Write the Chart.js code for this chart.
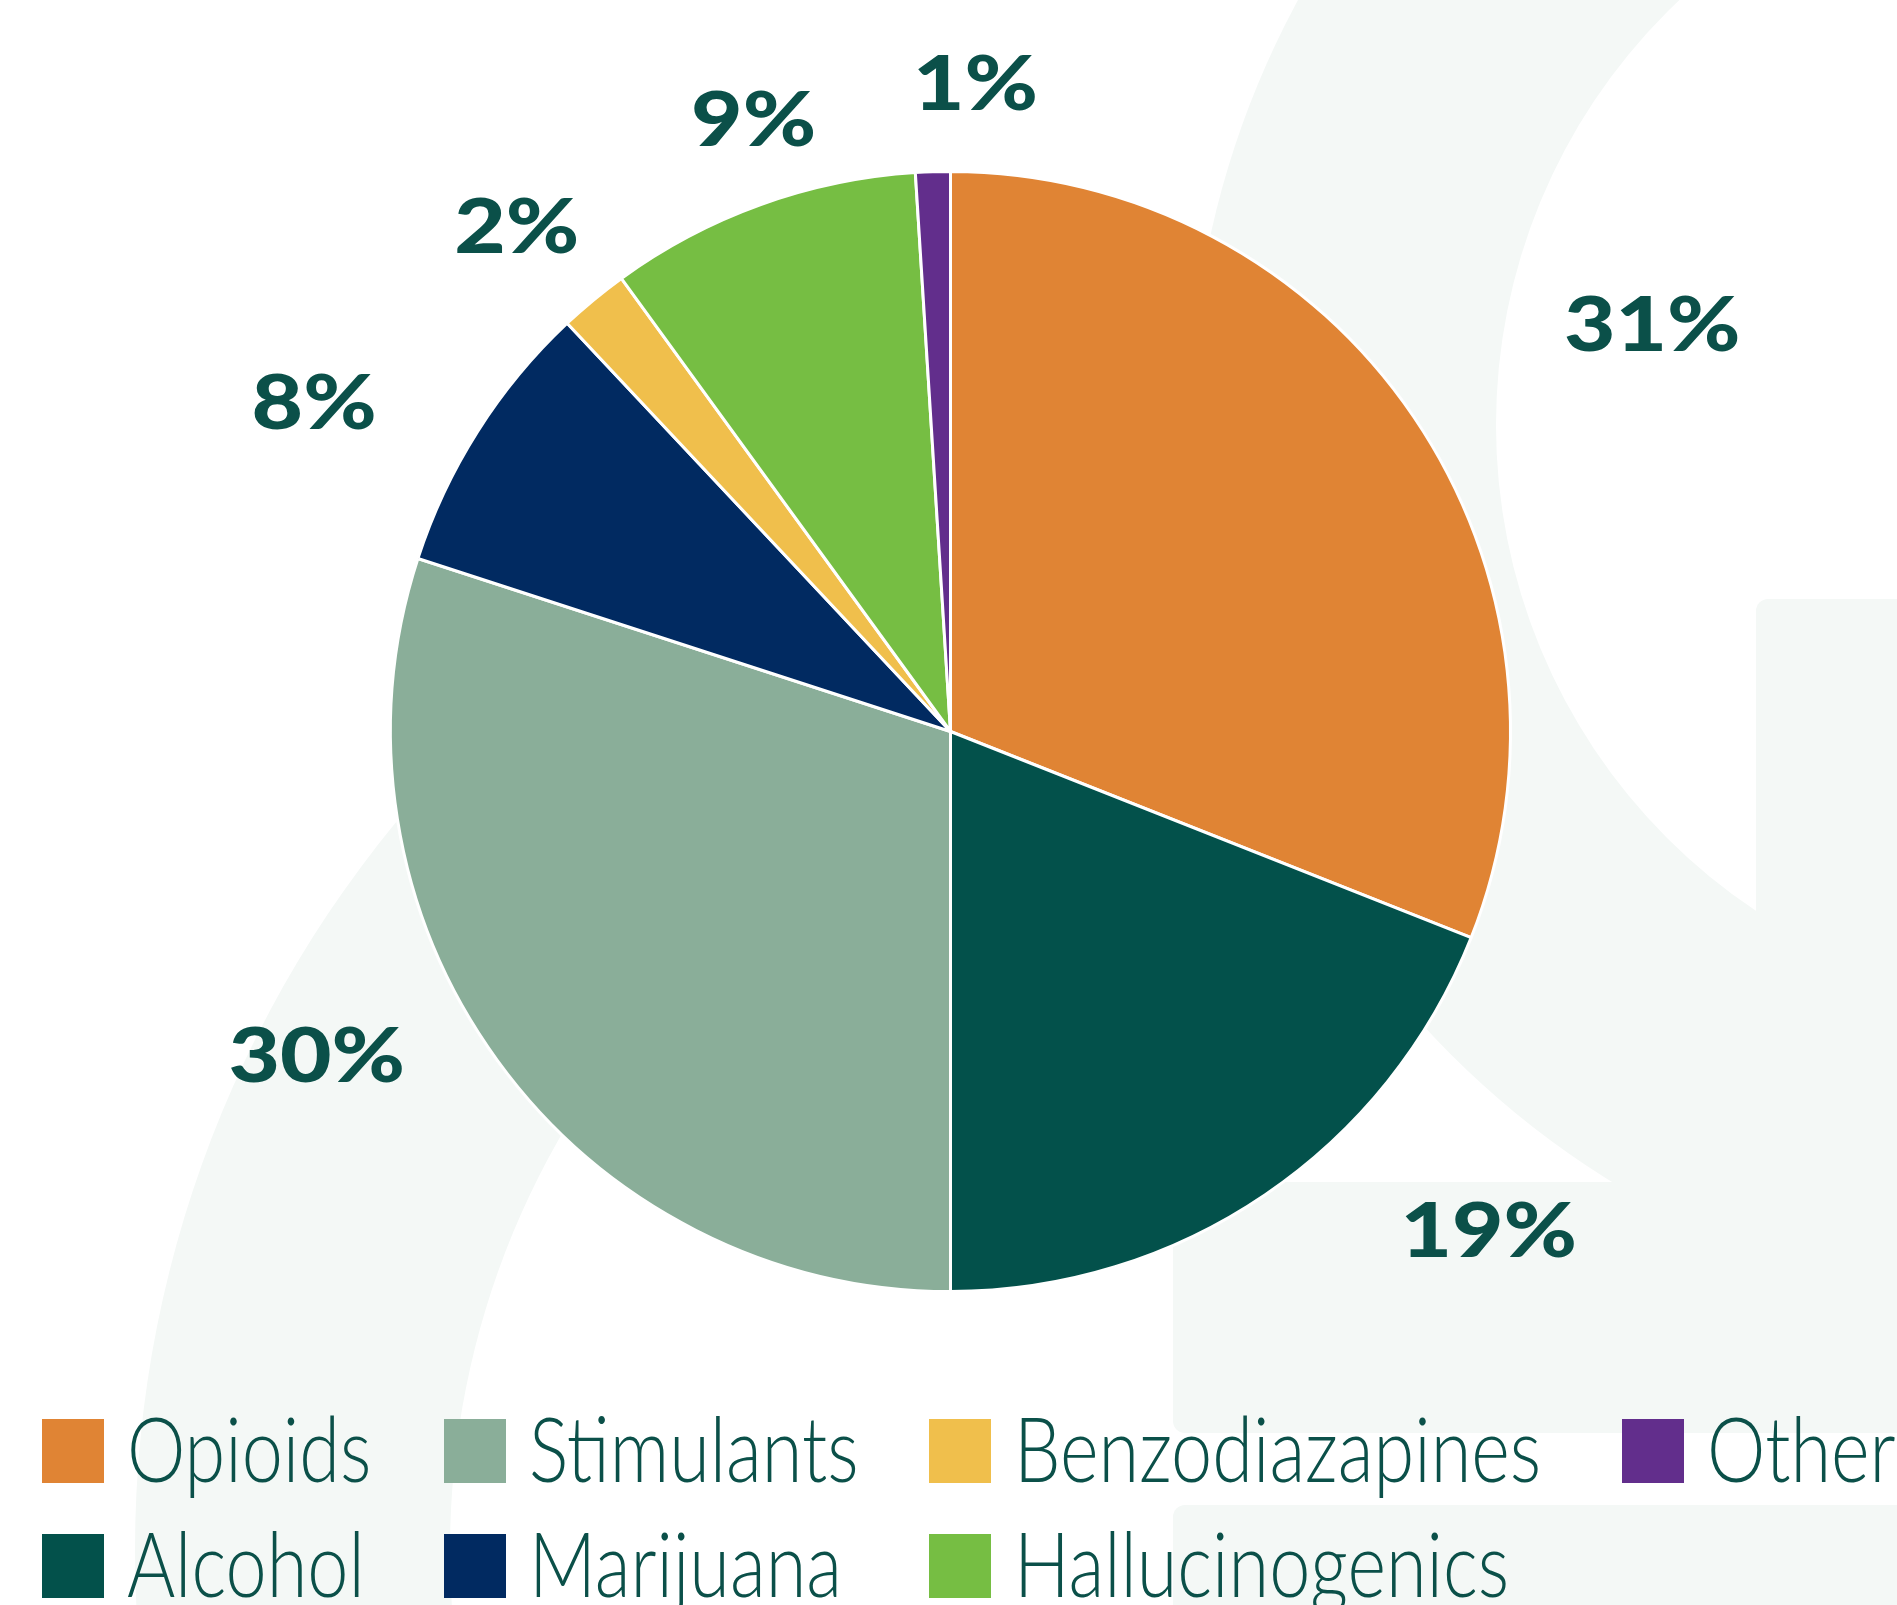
<!DOCTYPE html>
<html>
<head>
<meta charset="utf-8">
<title>Substance use pie</title>
<script src="https://cdn.jsdelivr.net/npm/chart.js@4.4.1/dist/chart.umd.min.js"></script>
<style>
  html, body { margin: 0; padding: 0; background: #ffffff; }
  #wrap { position: relative; width: 1897px; height: 1605px; overflow: hidden; }
</style>
</head>
<body>
<div id="wrap"><canvas id="pieChart"></canvas></div>
<script>
// Data (clockwise from 12 o'clock)
const categories = ["Opioids", "Alcohol", "Stimulants", "Marijuana", "Benzodiazapines", "Hallucinogenics", "Other"];
const shares = [31, 19, 30, 8, 2, 9, 1];
const sliceColors = ["#e08434", "#03514b", "#8aae99", "#012a61", "#f0bf4c", "#76be43", "#622e8c"];

const TEXT_GREEN = "#0b5049";
const SHADE = "#f4f8f6";

// Faint logo shapes behind the chart
const backdropPlugin = {
    id: "backdrop",
    beforeDraw(chart) {
        const ctx = chart.ctx;
        ctx.save();
        ctx.fillStyle = "#ffffff";
        ctx.fillRect(0, 0, chart.width, chart.height);
        ctx.fillStyle = SHADE;

        // left arc (clipped to the left half)
        ctx.save();
        ctx.beginPath();
        ctx.rect(0, 0, 1000, chart.height);
        ctx.clip();
        ctx.beginPath();
        ctx.arc(1280, 1550, 1145, 0, Math.PI * 2);
        ctx.arc(1280, 1550, 830, 0, Math.PI * 2, true);
        ctx.fill("evenodd");
        ctx.restore();

        // right ring
        ctx.beginPath();
        ctx.arc(2080, 425, 890, 0, Math.PI * 2);
        ctx.fill();
        ctx.fillStyle = "#ffffff";
        ctx.beginPath();
        ctx.arc(2080, 425, 584, 0, Math.PI * 2);
        ctx.fill();

        ctx.fillStyle = SHADE;
        ctx.beginPath();
        ctx.roundRect(1756, 599, 200, 700, 12);
        ctx.fill();
        ctx.beginPath();
        ctx.roundRect(1173, 1182, 760, 251, 12);
        ctx.fill();
        ctx.beginPath();
        ctx.roundRect(1173, 1505, 760, 200, 12);
        ctx.fill();
        ctx.restore();
    }
};

// Percent labels outside each slice
const sliceLabelPlugin = {
    id: "sliceLabels",
    afterDatasetsDraw(chart, args, opts) {
        const ctx = chart.ctx;
        const meta = chart.getDatasetMeta(0);
        ctx.save();
        ctx.fillStyle = TEXT_GREEN;
        ctx.font = "900 76px Lato";
        ctx.textAlign = "center";
        ctx.textBaseline = "middle";
        meta.data.forEach((arc, i) => {
            const p = arc.getProps(["x", "y", "startAngle", "endAngle", "outerRadius"], true);
            const ang = (p.startAngle + p.endAngle) / 2 + (opts.nudge[i] || 0) * Math.PI / 180;
            const r = p.outerRadius * opts.radial[i];
            ctx.save();
            ctx.translate(p.x + Math.cos(ang) * r, p.y + Math.sin(ang) * r + 3);
            ctx.scale(opts.widen, 1);
            ctx.fillText(chart.data.datasets[0].data[i] + "%", 0, 0);
            ctx.restore();
        });
        ctx.restore();
    }
};

// Legend laid out in two rows, filled column by column
const gridLegendPlugin = {
    id: "gridLegend",
    afterDraw(chart, args, opts) {
        const ctx = chart.ctx;
        const labels = chart.data.labels;
        const colors = chart.data.datasets[0].backgroundColor;
        ctx.save();
        ctx.font = "300 90px Lato";
        ctx.textBaseline = "alphabetic";
        labels.forEach((label, i) => {
            const col = Math.floor(i / 2);
            const row = i % 2;
            const bx = opts.columns[col];
            const by = opts.rows[row];
            ctx.fillStyle = colors[i];
            ctx.fillRect(bx, by, opts.box, opts.box + 2);
            ctx.save();
            ctx.translate(bx + opts.textGap, by + opts.box + 1);
            ctx.scale(opts.squeeze, 1);
            ctx.fillStyle = TEXT_GREEN;
            ctx.fillText(label, 0, 0);
            ctx.restore();
        });
        ctx.restore();
    }
};

const ctx = document.getElementById("pieChart").getContext("2d");
new Chart(ctx, {
    type: "pie",
    data: {
        labels: categories,
        datasets: [{
            data: shares,
            backgroundColor: sliceColors,
            borderColor: "#ffffff",
            borderWidth: 3
        }]
    },
    options: {
        responsive: true,
        maintainAspectRatio: false,
        animation: false,
        layout: { padding: { top: 170, bottom: 312, left: 389, right: 385 } },
        plugins: {
            legend: { display: false },
            tooltip: { enabled: false },
            sliceLabels: {
                radial: [1.45, 1.31, 1.27, 1.28, 1.19, 1.15, 1.16],
                nudge: [4, -13, 9, -5, -1, 2, 4],
                widen: 1.17
            },
            gridLegend: {
                columns: [42, 444, 929, 1622],
                rows: [1419, 1534],
                box: 62,
                textGap: 85,
                squeeze: 0.82
            }
        }
    },
    plugins: [backdropPlugin, sliceLabelPlugin, gridLegendPlugin]
});
</script>
</body>
</html>
